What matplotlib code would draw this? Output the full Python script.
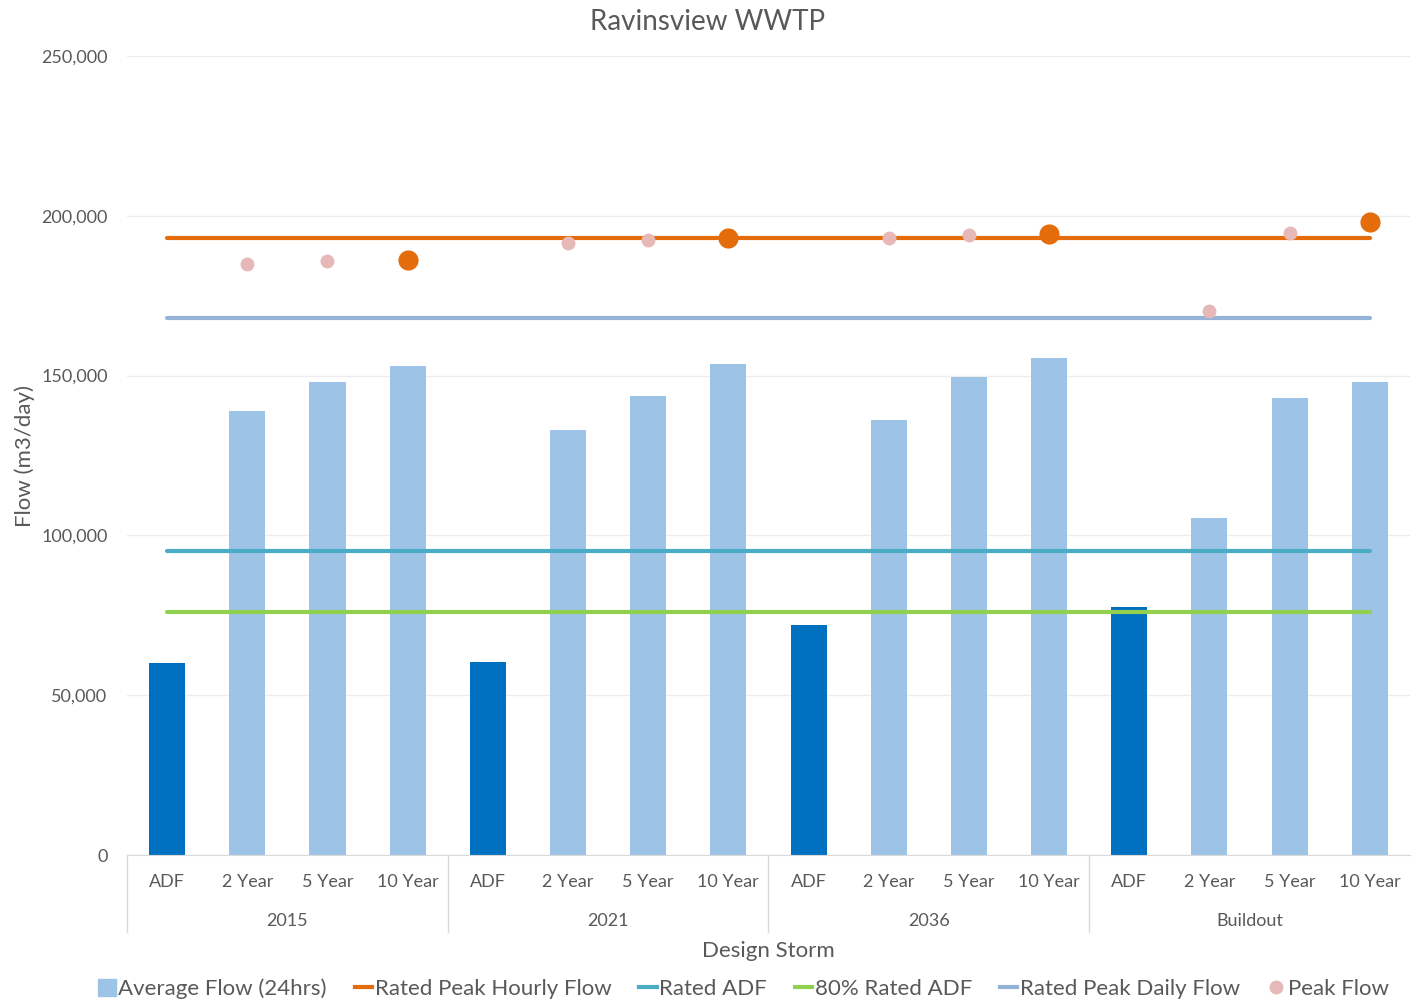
import matplotlib
matplotlib.use("Agg")
import matplotlib.pyplot as plt
from matplotlib.lines import Line2D
from matplotlib.patches import Patch
import matplotlib.ticker as mticker

plt.rcParams['font.family'] = ['Lato', 'DejaVu Sans']

groups = ["2015", "2021", "2036", "Buildout"]
storms = ["ADF", "2 Year", "5 Year", "10 Year"]
avg_flow = [60000, 139000, 148000, 153000,
            60400, 133000, 143600, 153600,
            72000, 136100, 149600, 155500,
            77600, 105500, 143000, 148000]
peak_flow = [None, 185000, 185900, 186200,
             None, 191500, 192400, 193100,
             None, 193000, 194000, 194300,
             None, 170200, 194600, 198100]
rated_peak_hourly = 193000
rated_adf = 95000
rated_adf_80 = 76000
rated_peak_daily = 168000

text_c = "#595959"
adf_c = "#0070C0"
bar_c = "#9DC3E6"
orange = "#E46C0A"
teal = "#4BACC6"
green = "#92D050"
steel = "#95B3D7"
pink = "#E6B9B8"

fig = plt.figure(figsize=(14.16, 10.02), dpi=100)
ax = fig.add_axes([0.0897, 0.1467, 0.906, 0.7974])

n = len(avg_flow)
xs = list(range(n))
cols = [adf_c if i % 4 == 0 else bar_c for i in xs]
ax.bar(xs, avg_flow, width=0.45, color=cols, zorder=2)

for val, c in [(rated_peak_hourly, orange), (rated_adf, teal), (rated_adf_80, green), (rated_peak_daily, steel)]:
    ax.plot([0, n - 1], [val, val], color=c, lw=3, solid_capstyle='round', zorder=3)

px = [i for i in xs if peak_flow[i] is not None and i % 4 != 3]
py = [peak_flow[i] for i in px]
ax.plot(px, py, 'o', color=pink, ms=10, mec='none', zorder=4)
ox = [i for i in xs if i % 4 == 3]
oy = [peak_flow[i] for i in ox]
ax.plot(ox, oy, 'o', color=orange, ms=14.5, mec='none', zorder=4)

ax.set_xlim(-0.5, n - 0.5)
ax.set_ylim(0, 250000)
ax.yaxis.set_major_locator(mticker.MultipleLocator(50000))
ax.yaxis.set_major_formatter(mticker.FuncFormatter(lambda v, p: f"{int(v):,}"))
ax.grid(axis='y', color="#EDEDED", lw=1, zorder=0)
ax.set_axisbelow(True)
for s in ['top', 'right', 'left']:
    ax.spines[s].set_visible(False)
ax.spines['bottom'].set_color("#D9D9D9")
ax.tick_params(axis='y', length=0, labelsize=13, labelcolor=text_c, pad=14)
ax.set_xticks(xs)
ax.set_xticklabels(storms * 4)
ax.tick_params(axis='x', length=0, labelsize=13, labelcolor=text_c, pad=14)

trans = ax.get_xaxis_transform()
for k in range(4):
    xb = 4 * k - 0.5
    ax.plot([xb, xb], [0, -0.096], transform=trans, color="#D9D9D9", lw=1, clip_on=False)
for k, g in enumerate(groups):
    ax.text(4 * k + 1.5, -0.083, g, transform=trans, ha='center', va='center', fontsize=13, color=text_c)

ax.text(0.5, -0.12, "Design Storm", transform=ax.transAxes, ha='center', va='center', fontsize=16, color=text_c)
ax.set_ylabel("Flow (m3/day)", fontsize=16, color=text_c)
ax.yaxis.set_label_coords(-0.0717, 0.5)
fig.text(0.5, 0.978, "Ravinsview WWTP", ha='center', va='center', fontsize=20, color=text_c)

handles = [
    Patch(color=bar_c, label="Average Flow (24hrs)"),
    Line2D([], [], color=orange, lw=3, label="Rated Peak Hourly Flow"),
    Line2D([], [], color=teal, lw=3, label="Rated ADF"),
    Line2D([], [], color=green, lw=3, label="80% Rated ADF"),
    Line2D([], [], color=steel, lw=3, label="Rated Peak Daily Flow"),
    Line2D([], [], marker='o', color=pink, ls='none', ms=10, mec='none', label="Peak Flow"),
]
leg = fig.legend(handles=handles, loc='center', bbox_to_anchor=(0.525, 0.013), ncol=6, frameon=False,
                 fontsize=16, handlelength=0.8, handletextpad=0.1, columnspacing=1.25, handleheight=0.8)
for t in leg.get_texts():
    t.set_color(text_c)

fig.savefig("out.png", dpi=100)
